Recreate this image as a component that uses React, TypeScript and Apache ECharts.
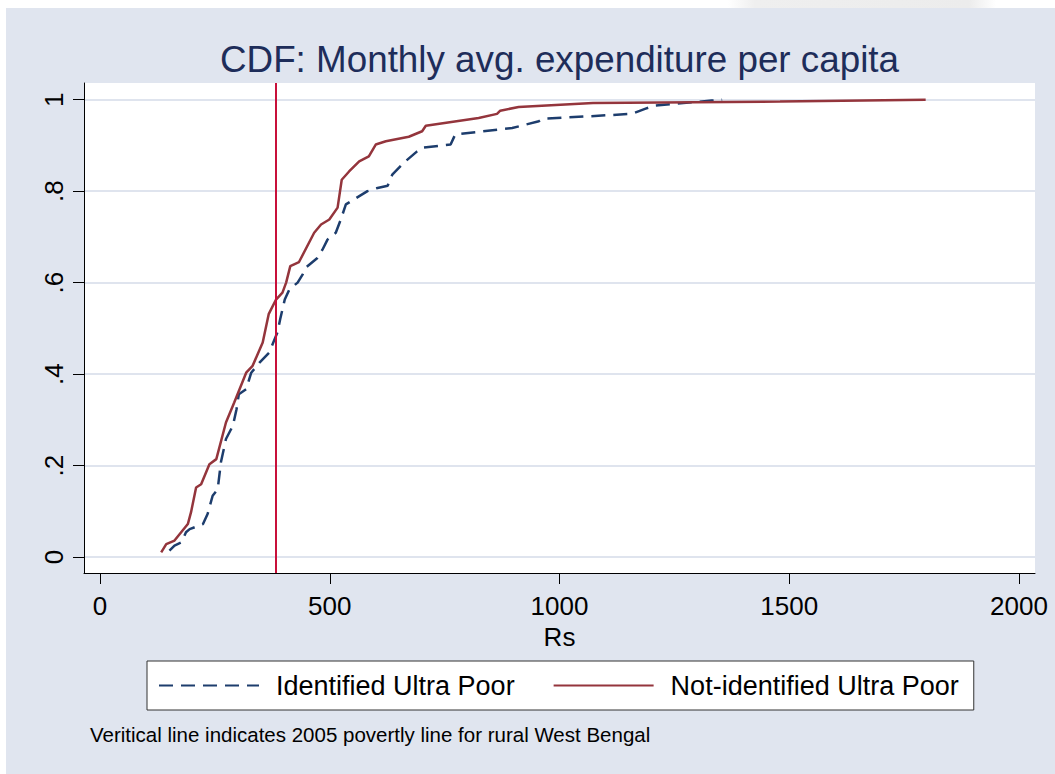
import React, { useEffect, useRef } from 'react';
import * as echarts from 'echarts';

// Identified Ultra Poor (dashed navy) – monthly expenditure (Rs) and cumulative share
const identX = [151, 162, 177, 187, 195, 224, 234, 245, 256, 263, 274, 289, 297, 302, 318, 329, 347, 368, 377, 386, 392, 402, 412, 430, 441, 448, 473, 484, 495, 513, 524, 535, 582, 604, 626, 636, 661, 690, 701, 763, 773, 897, 955, 962, 1157, 1186, 1208, 1331, 1354];
const identY = [0.014, 0.025, 0.032, 0.054, 0.061, 0.072, 0.094, 0.134, 0.148, 0.207, 0.258, 0.287, 0.323, 0.356, 0.367, 0.403, 0.425, 0.447, 0.469, 0.491, 0.52, 0.563, 0.585, 0.6, 0.618, 0.633, 0.654, 0.672, 0.694, 0.709, 0.738, 0.771, 0.8, 0.807, 0.812, 0.836, 0.862, 0.887, 0.895, 0.902, 0.924, 0.938, 0.953, 0.958, 0.969, 0.98, 0.987, 0.998, 1.0];

// Not-identified Ultra Poor (solid maroon)
const notIdentX = [133, 144, 162, 191, 198, 209, 220, 238, 253, 274, 292, 318, 332, 354, 367, 383, 397, 405, 414, 433, 466, 481, 499, 517, 526, 542, 564, 585, 600, 622, 672, 701, 709, 824, 864, 871, 911, 1073, 1480, 1797];
const notIdentY = [0.01, 0.028, 0.036, 0.072, 0.098, 0.152, 0.159, 0.203, 0.214, 0.294, 0.338, 0.403, 0.418, 0.469, 0.531, 0.563, 0.578, 0.6, 0.636, 0.645, 0.709, 0.727, 0.738, 0.764, 0.825, 0.843, 0.865, 0.876, 0.902, 0.909, 0.919, 0.931, 0.943, 0.96, 0.969, 0.976, 0.984, 0.993, 0.996, 1.0];

const povertyLine = 382.82;
const xTicks = [0, 500, 1000, 1500, 2000];
const yTicks = [0, 0.2, 0.4, 0.6, 0.8, 1];
const seriesNames = ['Identified Ultra Poor', 'Not-identified Ultra Poor'];
const titleText = 'CDF: Monthly avg. expenditure per capita';
const xAxisName = 'Rs';
const noteText = 'Veritical line indicates 2005 povertly line for rural West Bengal';

const FONT = "'Liberation Sans', Arial, Helvetica, sans-serif";
const NAVY = '#1d3d6d';
const MAROON = '#94353c';
const RED = '#c8103a';
const PANEL = '#e0e5ef';
const GRID = '#dfe4ee';

const fmtY = (v: number) => {
  if (Math.abs(v) < 1e-9) return '0';
  if (Math.abs(v - 1) < 1e-9) return '1';
  return String(+v.toFixed(1)).replace(/^0/, '');
};
const fmtX = (v: number) => String(Math.round(v));

export default function App() {
  const ref = useRef<HTMLDivElement>(null);
  useEffect(() => {
    const chart = echarts.init(ref.current!, null, { renderer: 'svg' });
    chart.setOption({
      animation: false,
      backgroundColor: '#ffffff',
      graphic: {
        elements: [
          { type: 'rect', z: -10, silent: true, shape: { x: 6, y: 8, width: 1049, height: 766 }, style: { fill: PANEL } },
          {
            type: 'rect', z: -10, silent: true, shape: { x: 728, y: 0, width: 268, height: 8 },
            style: { fill: new echarts.graphic.LinearGradient(0, 0, 1, 0, [
              { offset: 0, color: '#ffffff' }, { offset: 0.1, color: '#efefef' }, { offset: 0.9, color: '#ececec' }, { offset: 1, color: '#ffffff' },
            ]) },
          },
          {
            type: 'text', x: 559.5, y: 59.5, silent: true,
            style: { text: titleText, font: `36.8px ${FONT}`, fill: '#1e2d5a', align: 'center', verticalAlign: 'middle' },
          },
          {
            type: 'text', x: 90, y: 734, silent: true,
            style: { text: noteText, font: `20.5px ${FONT}`, fill: '#000', align: 'left', verticalAlign: 'middle' },
          },
        ],
      },
      grid: { left: 84, top: 83, width: 951, height: 490, show: true, backgroundColor: '#ffffff', borderWidth: 0 },
      xAxis: {
        type: 'value', min: -35, max: 2035,
        name: xAxisName, nameLocation: 'middle', nameGap: 44,
        nameTextStyle: { fontSize: 26, fontFamily: FONT, color: '#000' },
        axisLine: { show: true, onZero: false, lineStyle: { color: '#000', width: 1 } },
        axisTick: { show: true, length: 11, customValues: xTicks, lineStyle: { color: '#000', width: 1 } },
        axisLabel: { show: true, customValues: xTicks, margin: 20, fontSize: 26, fontFamily: FONT, color: '#000', formatter: fmtX },
        splitLine: { show: false },
      },
      yAxis: {
        type: 'value', min: -0.035, max: 1.0365,
        axisLine: { show: true, onZero: false, lineStyle: { color: '#000', width: 1 } },
        axisTick: { show: true, length: 11, customValues: yTicks, lineStyle: { color: '#000', width: 1 } },
        axisLabel: { show: true, customValues: yTicks, rotate: 90, margin: 17, fontSize: 26, fontFamily: FONT, color: '#000', formatter: fmtY },
        splitLine: { show: true, lineStyle: { color: GRID, width: 2 } },
      },
      legend: {
        show: true, left: 147, top: 661, orient: 'horizontal',
        itemWidth: 100, itemHeight: 4, itemGap: 38,
        padding: [11, 15, 11, 11],
        backgroundColor: '#ffffff', borderColor: '#333333', borderWidth: 1,
        itemStyle: { opacity: 0 },
        textStyle: { fontSize: 27, fontFamily: FONT, color: '#000', padding: [0, 0, 0, 12] },
        data: seriesNames,
      },
      series: [
        {
          name: seriesNames[0], type: 'line', symbol: 'none', showSymbol: false, smooth: false,
          lineStyle: { color: NAVY, width: 2.5, type: [14, 8] },
          itemStyle: { color: NAVY },
          data: identX.map((x, i) => [x, identY[i]]),
          z: 3,
        },
        {
          name: seriesNames[1], type: 'line', symbol: 'none', showSymbol: false, smooth: false,
          lineStyle: { color: MAROON, width: 2.5, type: 'solid' },
          itemStyle: { color: MAROON },
          data: notIdentX.map((x, i) => [x, notIdentY[i]]),
          z: 4,
          markLine: {
            silent: true, symbol: 'none', animation: false,
            label: { show: false },
            lineStyle: { color: RED, width: 2, type: 'solid' },
            data: [{ xAxis: povertyLine }],
          },
        },
      ],
    });
    return () => chart.dispose();
  }, []);
  return <div ref={ref} style={{ position: 'absolute', left: 0, top: 0, width: 1055, height: 774 }} />;
}
